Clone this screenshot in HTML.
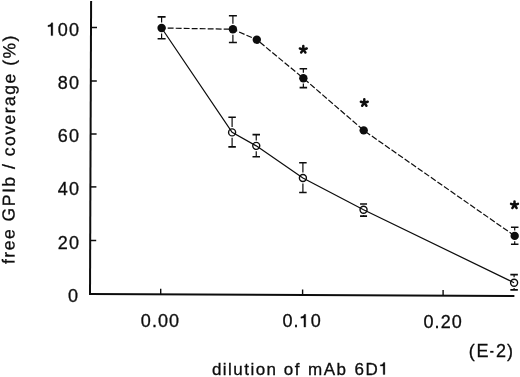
<!DOCTYPE html>
<html><head><meta charset="utf-8"><style>
html,body{margin:0;padding:0;background:#fff;}
svg{display:block;filter:grayscale(1);}
text{font-family:"Liberation Sans",sans-serif;fill:#0d0d0d;stroke:#0d0d0d;stroke-width:0.3px;}
</style></head><body>
<svg width="520" height="377" viewBox="0 0 520 377">
<rect width="520" height="377" fill="#fff"/>
<path d="M91.1 1 L90 294.2" stroke="#0d0d0d" stroke-width="2" fill="none"/>
<path d="M89 294.0 L514.4 296.1" stroke="#0d0d0d" stroke-width="2" fill="none"/>
<path d="M91 27.5 H97" stroke="#0d0d0d" stroke-width="1.5"/>
<path d="M90.8 81 H96.8" stroke="#0d0d0d" stroke-width="1.5"/>
<path d="M90.6 134 H96.6" stroke="#0d0d0d" stroke-width="1.5"/>
<path d="M90.4 186.9 H96.4" stroke="#0d0d0d" stroke-width="1.5"/>
<path d="M90.2 240.5 H96.2" stroke="#0d0d0d" stroke-width="1.5"/>
<path d="M160.7 294.2 V288.7" stroke="#0d0d0d" stroke-width="1.4"/>
<path d="M302.6 295 V289.5" stroke="#0d0d0d" stroke-width="1.4"/>
<path d="M443.1 295.5 V290" stroke="#0d0d0d" stroke-width="1.4"/>
<path d="M161.6 28 L232.9 29.25" stroke="#0d0d0d" stroke-width="1.2" fill="none" stroke-dasharray="5.9 2.1" stroke-dashoffset="1.9"/>
<path d="M232.9 29.25 L256.8 39.7" stroke="#0d0d0d" stroke-width="1.2" fill="none" stroke-dasharray="5.9 2.1" stroke-dashoffset="1.21"/>
<path d="M256.8 39.7 L303.35 78.2" stroke="#0d0d0d" stroke-width="1.2" fill="none" stroke-dasharray="5.9 2.1" stroke-dashoffset="3.9"/>
<path d="M303.35 78.2 L363.7 130.4" stroke="#0d0d0d" stroke-width="1.2" fill="none" stroke-dasharray="5.9 2.1" stroke-dashoffset="6.9"/>
<path d="M363.7 130.4 L514.7 235.9" stroke="#0d0d0d" stroke-width="1.2" fill="none" stroke-dasharray="5.9 2.1" stroke-dashoffset="6.05"/>
<path d="M161.6 28 L232.1 132.4 L256.25 145.85 L302.9 178 L363.55 209.8 L514.1 282.7" stroke="#0d0d0d" stroke-width="1.25" fill="none"/>
<path d="M161.6 16.9 V22.6 M161.6 33.4 V38.8" stroke="#0d0d0d" stroke-width="1.2" fill="none"/><path d="M157.6 16.9 H165.6 M157.6 38.8 H165.6" stroke="#0d0d0d" stroke-width="1.6" fill="none"/>
<path d="M232.9 15.75 V23.85 M232.9 34.65 V42.5" stroke="#0d0d0d" stroke-width="1.2" fill="none"/><path d="M228.9 15.75 H236.9 M228.9 42.5 H236.9" stroke="#0d0d0d" stroke-width="1.6" fill="none"/>
<path d="M303.35 68.8 V72.8 M303.35 83.6 V87.6" stroke="#0d0d0d" stroke-width="1.2" fill="none"/><path d="M299.6 68.8 H307.1 M299.6 87.6 H307.1" stroke="#0d0d0d" stroke-width="1.6" fill="none"/>
<path d="M514.7 227.3 V230.5 M514.7 241.3 V244.3" stroke="#0d0d0d" stroke-width="1.2" fill="none"/><path d="M510.95 227.3 H518.45 M510.95 244.3 H518.45" stroke="#0d0d0d" stroke-width="1.6" fill="none"/>
<path d="M232.1 117.3 V127 M232.1 137.8 V146.9" stroke="#0d0d0d" stroke-width="1.2" fill="none"/><path d="M228.35 117.3 H235.85 M228.35 146.9 H235.85" stroke="#0d0d0d" stroke-width="1.6" fill="none"/>
<path d="M256.25 134.6 V140.45 M256.25 151.25 V156.7" stroke="#0d0d0d" stroke-width="1.2" fill="none"/><path d="M252.5 134.6 H260 M252.5 156.7 H260" stroke="#0d0d0d" stroke-width="1.6" fill="none"/>
<path d="M302.9 162.8 V172.6 M302.9 183.4 V192.5" stroke="#0d0d0d" stroke-width="1.2" fill="none"/><path d="M299.15 162.8 H306.65 M299.15 192.5 H306.65" stroke="#0d0d0d" stroke-width="1.6" fill="none"/>
<path d="M363.55 215.2 V216.1" stroke="#0d0d0d" stroke-width="1.2" fill="none"/><path d="M360.05 204 H367.05 M360.05 216.1 H367.05" stroke="#0d0d0d" stroke-width="1.6" fill="none"/>
<path d="M514.1 274.6 V277.3 M514.1 288.1 V289.9" stroke="#0d0d0d" stroke-width="1.2" fill="none"/><path d="M510.35 274.6 H517.85 M510.35 289.9 H517.85" stroke="#0d0d0d" stroke-width="1.6" fill="none"/>
<circle cx="232.1" cy="132.4" r="3.5" fill="none" stroke="#0d0d0d" stroke-width="1.4"/>
<circle cx="256.25" cy="145.85" r="3.5" fill="none" stroke="#0d0d0d" stroke-width="1.4"/>
<circle cx="302.9" cy="178" r="3.5" fill="none" stroke="#0d0d0d" stroke-width="1.4"/>
<circle cx="363.55" cy="209.8" r="3.5" fill="none" stroke="#0d0d0d" stroke-width="1.4"/>
<circle cx="514.1" cy="282.7" r="3.5" fill="none" stroke="#0d0d0d" stroke-width="1.4"/>
<circle cx="161.6" cy="28" r="4.2" fill="#0d0d0d"/>
<circle cx="232.9" cy="29.25" r="4.2" fill="#0d0d0d"/>
<circle cx="256.8" cy="39.7" r="4.2" fill="#0d0d0d"/>
<circle cx="303.35" cy="78.2" r="4.2" fill="#0d0d0d"/>
<circle cx="363.7" cy="130.4" r="4.2" fill="#0d0d0d"/>
<circle cx="514.7" cy="235.9" r="4.2" fill="#0d0d0d"/>
<path d="M303.3 49.6 L303.3 46 M303.3 49.6 L306.72 48.49 M303.3 49.6 L305.42 52.51 M303.3 49.6 L301.18 52.51 M303.3 49.6 L299.88 48.49" stroke="#0d0d0d" stroke-width="2.5" stroke-linecap="round" fill="none"/>
<path d="M364.3 102.8 L364.3 99.2 M364.3 102.8 L367.72 101.69 M364.3 102.8 L366.42 105.71 M364.3 102.8 L362.18 105.71 M364.3 102.8 L360.88 101.69" stroke="#0d0d0d" stroke-width="2.5" stroke-linecap="round" fill="none"/>
<path d="M514.5 205 L514.5 201.4 M514.5 205 L517.92 203.89 M514.5 205 L516.62 207.91 M514.5 205 L512.38 207.91 M514.5 205 L511.08 203.89" stroke="#0d0d0d" stroke-width="2.5" stroke-linecap="round" fill="none"/>
<path d="M52.8 22.84 L52.8 35.6 L51 35.6 L51 26.51 C50.28 26.6 48.84 26.69 47.94 26.69 L47.94 25.34 C49.74 25.25 50.91 24.44 51.39 22.84 Z" fill="#0d0d0d" stroke="#0d0d0d" stroke-width="0.3"/>
<text x="57.79" y="35.6" font-size="18">0</text>
<text x="68.9" y="35.6" font-size="18">0</text>
<text x="57.79" y="88.6" font-size="18">8</text>
<text x="68.9" y="88.6" font-size="18">0</text>
<text x="57.79" y="142.3" font-size="18">6</text>
<text x="68.9" y="142.3" font-size="18">0</text>
<text x="57.79" y="195.4" font-size="18">4</text>
<text x="68.9" y="195.4" font-size="18">0</text>
<text x="57.79" y="248.6" font-size="18">2</text>
<text x="68.9" y="248.6" font-size="18">0</text>
<text x="68.1" y="302.3" font-size="18">0</text>
<text x="140.8" y="326.6" font-size="18">0</text>
<text x="151.91" y="326.6" font-size="18">.</text>
<text x="158.01" y="326.6" font-size="18">0</text>
<text x="169.12" y="326.6" font-size="18">0</text>
<text x="282.4" y="327.1" font-size="18">0</text>
<text x="293.51" y="327.1" font-size="18">.</text>
<path d="M305.73 314.34 L305.73 327.1 L303.93 327.1 L303.93 318.01 C303.21 318.1 301.77 318.19 300.87 318.19 L300.87 316.84 C302.67 316.75 303.84 315.94 304.33 314.34 Z" fill="#0d0d0d" stroke="#0d0d0d" stroke-width="0.3"/>
<text x="310.72" y="327.1" font-size="18">0</text>
<text x="423.5" y="327.7" font-size="18">0</text>
<text x="434.61" y="327.7" font-size="18">.</text>
<text x="440.71" y="327.7" font-size="18">2</text>
<text x="451.82" y="327.7" font-size="18">0</text>
<text x="468.7" y="356.6" font-size="18">(</text>
<text x="476.6" y="356.6" font-size="18">E</text>
<rect x="490.2" y="350.9" width="3.3" height="1.8" fill="#0d0d0d"/>
<text x="496" y="356.6" font-size="18">2</text>
<text x="507.1" y="356.6" font-size="18">)</text>
<text x="211.9" y="374.5" font-size="17">d</text>
<text x="222.82" y="374.5" font-size="17">i</text>
<text x="228.07" y="374.5" font-size="17">l</text>
<text x="233.32" y="374.5" font-size="17">u</text>
<text x="244.24" y="374.5" font-size="17">t</text>
<text x="250.44" y="374.5" font-size="17">i</text>
<text x="255.68" y="374.5" font-size="17">o</text>
<text x="266.61" y="374.5" font-size="17">n</text>
<text x="283.8" y="374.5" font-size="17">o</text>
<text x="294.65" y="374.5" font-size="17">f</text>
<text x="308.1" y="374.5" font-size="17">m</text>
<text x="323.66" y="374.5" font-size="17">A</text>
<text x="336.4" y="374.5" font-size="17">b</text>
<text x="354.57" y="374.5" font-size="17">6</text>
<text x="365.43" y="374.5" font-size="17">D</text>
<path d="M384.89 362.45 L384.89 374.5 L383.19 374.5 L383.19 365.92 C382.51 366 381.15 366.08 380.3 366.08 L380.3 364.81 C382 364.73 383.1 363.96 383.56 362.45 Z" fill="#0d0d0d" stroke="#0d0d0d" stroke-width="0.3"/>
<g transform="translate(14.4 264.05) rotate(-89.76)"><text x="0" y="0" font-size="17.5">f</text><text x="6.38" y="0" font-size="17.5">r</text><text x="13.73" y="0" font-size="17.5">e</text><text x="24.98" y="0" font-size="17.5">e</text><text x="42.62" y="0" font-size="17.5">G</text><text x="57.75" y="0" font-size="17.5">P</text><text x="70.94" y="0" font-size="17.5">I</text><text x="77.32" y="0" font-size="17.5">b</text><text x="94.96" y="0" font-size="17.5">/</text><text x="107.72" y="0" font-size="17.5">c</text><text x="117.99" y="0" font-size="17.5">o</text><text x="129.25" y="0" font-size="17.5">v</text><text x="139.52" y="0" font-size="17.5">e</text><text x="150.77" y="0" font-size="17.5">r</text><text x="158.12" y="0" font-size="17.5">a</text><text x="169.37" y="0" font-size="17.5">g</text><text x="180.62" y="0" font-size="17.5">e</text><text x="198.26" y="0" font-size="17.5">(</text><text x="205.6" y="0" font-size="17.5">%</text><text x="222.68" y="0" font-size="17.5">)</text></g>
</svg>
</body></html>
